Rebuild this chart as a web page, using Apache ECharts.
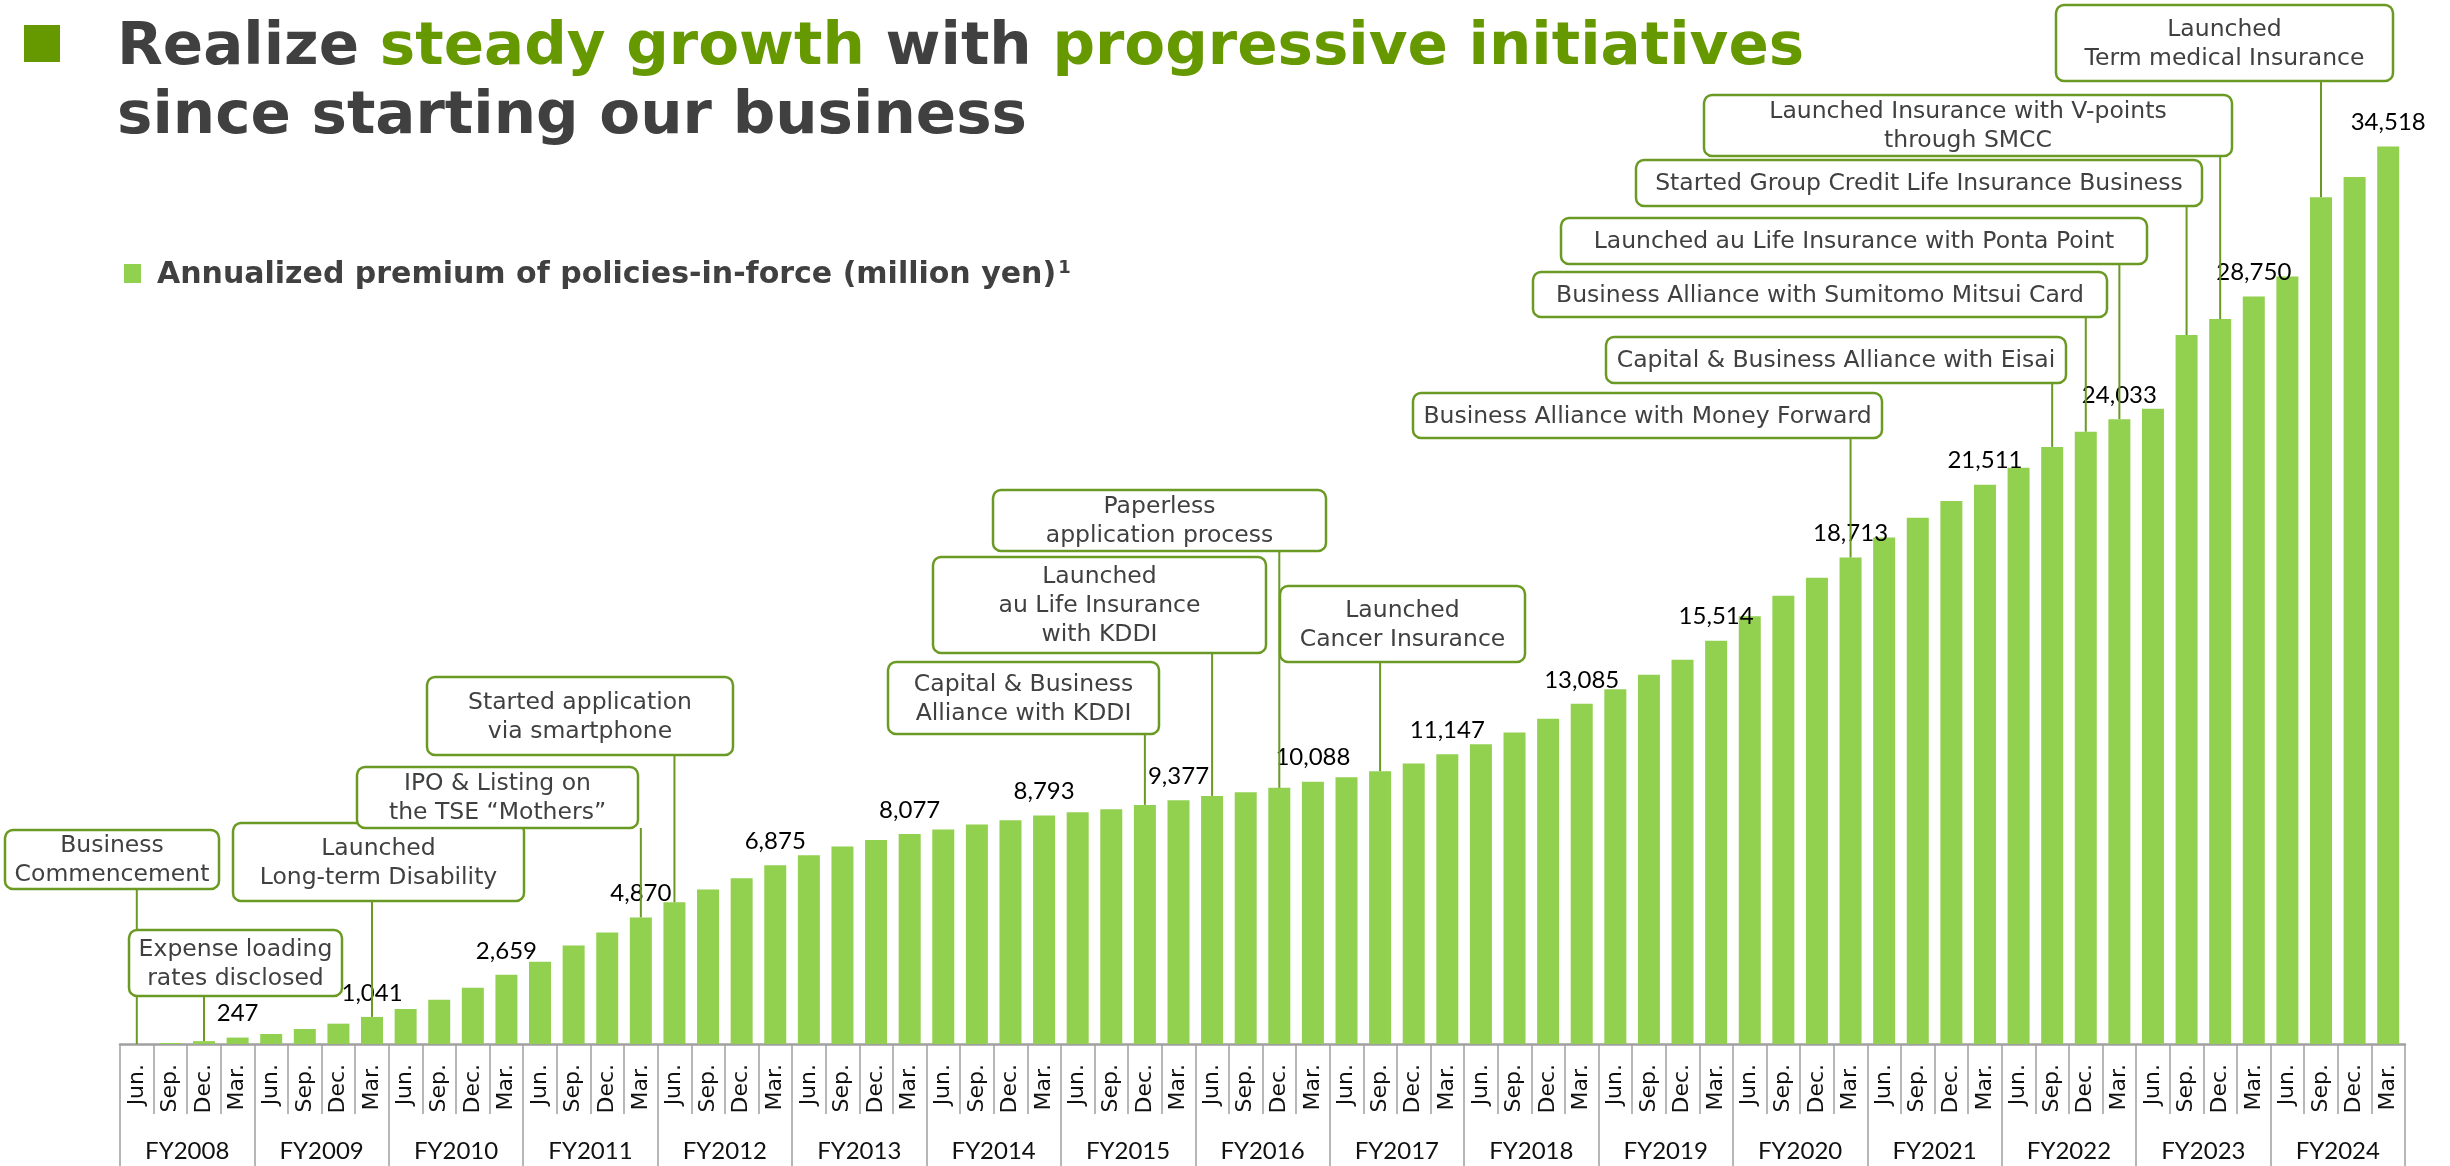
<!DOCTYPE html>
<html>
<head>
<meta charset="utf-8">
<script src="https://cdn.jsdelivr.net/npm/echarts@6/dist/echarts.min.js"></script>
<style>
  html, body { margin: 0; padding: 0; background: #ffffff; }
  #chart { width: 2450px; height: 1166px; }
</style>
</head>
<body>
<div id="chart"></div>
<script>
// Fiscal years and quarter-end months on the category axis
const fiscalYears = ['FY2008', 'FY2009', 'FY2010', 'FY2011', 'FY2012', 'FY2013', 'FY2014', 'FY2015',
  'FY2016', 'FY2017', 'FY2018', 'FY2019', 'FY2020', 'FY2021', 'FY2022', 'FY2023', 'FY2024'];
const quarterMonths = ['Jun.', 'Sep.', 'Dec.', 'Mar.'];

// Annualized premium of policies-in-force (million yen), one value per quarter end
const premium = [
  0, 40, 110, 247,             // FY2008
  385, 577, 782, 1041,         // FY2009
  1347, 1706, 2168, 2659,      // FY2010
  3168, 3784, 4284, 4870,      // FY2011
  5452, 5939, 6376, 6875,      // FY2012
  7261, 7593, 7850, 8077,      // FY2013
  8247, 8440, 8607, 8793,      // FY2014
  8915, 9030, 9197, 9377,      // FY2015
  9543, 9685, 9851, 10088,     // FY2016
  10262, 10493, 10786, 11147,  // FY2017
  11532, 11979, 12506, 13085,  // FY2018
  13649, 14199, 14780, 15514,  // FY2019
  16450, 17239, 17932, 18713,  // FY2020
  19483, 20240, 20883, 21511,  // FY2021
  22165, 22965, 23550, 24033,  // FY2022
  24430, 27270, 27880, 28750,  // FY2023
  29520, 32570, 33350, 34518   // FY2024
];

// Milestones: text and the quarter (index into premium) they point at
const milestones = [
  { text: 'Business\nCommencement', at: 0 },
  { text: 'Expense loading\nrates disclosed', at: 2 },
  { text: 'Launched\nLong-term Disability', at: 7 },
  { text: 'IPO & Listing on\nthe TSE \u201cMothers\u201d', at: 15 },
  { text: 'Started application\nvia smartphone', at: 16 },
  { text: 'Capital & Business\nAlliance with KDDI', at: 30 },
  { text: 'Launched\nau Life Insurance\nwith KDDI', at: 32 },
  { text: 'Paperless\napplication process', at: 34 },
  { text: 'Launched\nCancer Insurance', at: 37 },
  { text: 'Business Alliance with Money Forward', at: 51 },
  { text: 'Capital & Business Alliance with Eisai', at: 57 },
  { text: 'Business Alliance with Sumitomo Mitsui Card', at: 58 },
  { text: 'Launched au Life Insurance with Ponta Point', at: 59 },
  { text: 'Started Group Credit Life Insurance Business', at: 61 },
  { text: 'Launched Insurance with V-points\nthrough SMCC', at: 62 },
  { text: 'Launched\nTerm medical Insurance', at: 65 }
];

// Callout box placement [x, y, width, height] in pixels, same order as milestones
const milestoneBoxes = [
  [5, 830, 214, 59],
  [129, 930, 213, 66],
  [233, 823, 291, 78],
  [357, 767, 281, 61],
  [427, 677, 306, 78],
  [888, 662, 271, 72],
  [933, 557, 333, 96],
  [993, 490, 333, 61],
  [1280, 586, 245, 76],
  [1413, 393, 469, 45],
  [1606, 337, 460, 46],
  [1533, 272, 574, 45],
  [1561, 218, 586, 46],
  [1636, 160, 566, 46],
  [1704, 95, 528, 61],
  [2056, 5, 337, 76]
];

const monthLabels = [];
fiscalYears.forEach(() => quarterMonths.forEach(m => monthLabels.push(m)));

const GREEN_DARK = '#669900';
const BAR_GREEN = '#92d050';
const CALLOUT_GREEN = '#6a9a23';
const TEXT_GRAY = '#404040';
const AXIS_GRAY = '#a0a0a0';

const chart = echarts.init(document.getElementById('chart'), null, { renderer: 'canvas' });

chart.setOption({
  animation: false,
  backgroundColor: '#ffffff',
  grid: { left: 120, right: 45, top: 4, bottom: 122 },
  xAxis: [
    {
      type: 'category',
      data: monthLabels,
      position: 'bottom',
      axisLine: { show: true, lineStyle: { color: AXIS_GRAY, width: 2.5 } },
      axisTick: { show: true, interval: 0, length: 70, lineStyle: { color: AXIS_GRAY, width: 1.5 } },
      axisLabel: {
        interval: 0, rotate: 90, margin: 20,
        fontFamily: 'DejaVu Sans', fontSize: 22, color: '#111111'
      },
      splitLine: { show: false }
    },
    {
      type: 'category',
      data: fiscalYears,
      position: 'bottom',
      axisLine: { show: false },
      axisTick: { show: true, interval: 0, length: 124, lineStyle: { color: AXIS_GRAY, width: 1.5 } },
      axisLabel: {
        interval: 0, margin: 95,
        fontFamily: 'Lato', fontSize: 24, color: '#111111'
      },
      splitLine: { show: false }
    }
  ],
  yAxis: { type: 'value', min: 0, max: 40000, show: false },
  series: [{
    type: 'bar',
    xAxisIndex: 0,
    yAxisIndex: 0,
    barWidth: 22,
    silent: true,
    itemStyle: { color: BAR_GREEN },
    data: premium.map((v, i) => ({
      value: v,
      label: { show: i % 4 === 3 }
    })),
    label: {
      position: 'top',
      distance: 12,
      fontFamily: 'Lato',
      fontSize: 24,
      color: '#000000',
      formatter: p => p.value.toLocaleString('en-US')
    }
  }]
});

// Headline, subtitle and milestone callouts
const graphics = [];

graphics.push({
  type: 'rect', z: 100,
  shape: { x: 24, y: 25, width: 36, height: 37 },
  style: { fill: GREEN_DARK }
});
graphics.push({
  type: 'text', z: 100,
  style: {
    x: 117, y: 14,
    text: '{d|Realize }{g|steady growth}{d| with }{g|progressive initiatives}\n{d|since starting our business}',
    rich: {
      d: { fontFamily: 'DejaVu Sans', fontWeight: 'bold', fontSize: 59.5, fill: TEXT_GRAY, lineHeight: 69 },
      g: { fontFamily: 'DejaVu Sans', fontWeight: 'bold', fontSize: 59.5, fill: GREEN_DARK, lineHeight: 69 }
    }
  }
});
graphics.push({
  type: 'rect', z: 100,
  shape: { x: 124, y: 264, width: 17, height: 19 },
  style: { fill: BAR_GREEN }
});
graphics.push({
  type: 'text', z: 100,
  style: {
    x: 157, y: 257,
    text: '{t|Annualized premium of policies-in-force (million yen)}{s|1}',
    rich: {
      t: { fontFamily: 'DejaVu Sans', fontWeight: 'bold', fontSize: 30, fill: TEXT_GRAY, lineHeight: 36 },
      s: { fontFamily: 'DejaVu Sans', fontWeight: 'bold', fontSize: 18, fill: TEXT_GRAY, lineHeight: 36, verticalAlign: 'top', padding: [2, 0, 0, 2] }
    }
  }
});

// Leader lines from each callout down to the top of its bar
milestones.forEach((m, i) => {
  const [bx, by, bw, bh] = milestoneBoxes[i];
  const pt = chart.convertToPixel({ seriesIndex: 0 }, [m.at, premium[m.at]]);
  graphics.push({
    type: 'line', z: 100,
    shape: { x1: pt[0], y1: by + bh, x2: pt[0], y2: pt[1] },
    style: { stroke: CALLOUT_GREEN, lineWidth: 2 }
  });
});

// Callout boxes
milestones.forEach((m, i) => {
  const [bx, by, bw, bh] = milestoneBoxes[i];
  graphics.push({
    type: 'rect', z: 101,
    shape: { x: bx, y: by, width: bw, height: bh, r: 8 },
    style: { fill: '#ffffff', stroke: CALLOUT_GREEN, lineWidth: 2.5 }
  });
  graphics.push({
    type: 'text', z: 102,
    style: {
      x: bx + bw / 2, y: by + bh / 2 + 1,
      text: m.text,
      align: 'center', verticalAlign: 'middle',
      fontFamily: 'DejaVu Sans', fontSize: 23.5, lineHeight: 29,
      fill: TEXT_GRAY
    }
  });
});

chart.setOption({ graphic: graphics });
</script>
</body>
</html>
